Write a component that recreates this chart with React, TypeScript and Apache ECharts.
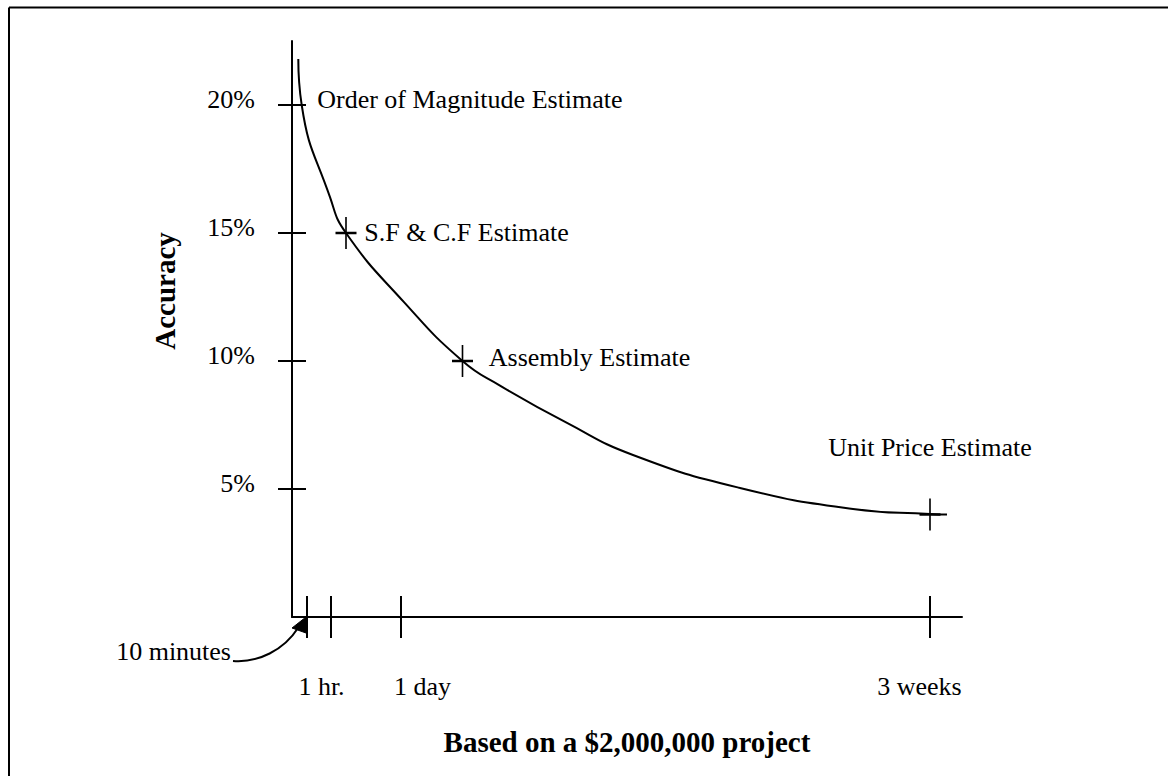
import React, { useEffect, useRef } from "react";
import * as echarts from "echarts";

// Curve (schematic time axis in arbitrary units, accuracy in %)
const curveX = [0.63, 0.97, 3.8, 5.4, 11.2, 17.05, 20.8, 27.5, 34.1, 44.8, 56.1, 63.8, 65.5];
const curveY = [21.8, 20.0, 16.4, 15.0, 12.3, 10.0, 9.04, 7.58, 6.33, 5.04, 4.22, 4.02, 4.0];

// Estimate types marked on the curve
const estimateNames = ["Order of Magnitude Estimate", "S.F & C.F Estimate", "Assembly Estimate", "Unit Price Estimate"];
const estimateX = [0.97, 5.4, 17.05, 63.8];
const estimateY = [20, 15, 10, 4];
const estimateMarked = [false, true, true, true];

// Axes
const yTickValues = [5, 10, 15, 20];
const xTickValues = [1.5, 3.9, 10.9, 63.8];
const xTickLabels = ["1 hr.", "1 day", "3 weeks"];
const xLabelValues = [2.95, 13.05, 62.75];
const xAxisTitle = "Based on a $2,000,000 project";
const yAxisTitle = "Accuracy";
const arrowLabel = "10 minutes";

const SERIF = "'Liberation Serif', 'Times New Roman', Times, serif";
const BLACK = "#000";

export default function App() {
  const ref = useRef<HTMLDivElement>(null);

  useEffect(() => {
    if (!ref.current) return;
    const chart = echarts.init(ref.current, undefined, { renderer: "svg" });

    const crossPath = "path://M10.5,0L10.5,32M0,16L21,16";
    const labelCfg = [
      { position: "right", distance: 0, offset: [15, -6] },
      { position: "right", distance: 0, offset: [7, -1] },
      { position: "right", distance: 0, offset: [15, -4] },
      { position: "top", distance: 37, offset: [0, 0] },
    ];

    const scatterData = estimateNames.map((name, i) => ({
      name,
      value: [estimateX[i], estimateY[i]],
      symbol: estimateMarked[i] ? crossPath : "circle",
      symbolSize: estimateMarked[i] ? [21, 32] : 1,
      itemStyle: estimateMarked[i]
        ? { color: "rgba(0,0,0,0)", borderColor: BLACK, borderWidth: 2, opacity: 1 }
        : { color: "rgba(0,0,0,0)", borderWidth: 0, opacity: 1 },
      label: {
        show: true,
        formatter: name,
        ...labelCfg[i],
        color: BLACK,
        opacity: 1,
        textBorderWidth: 0,
        fontFamily: SERIF,
        fontSize: 26,
      },
    }));

    const axisLineStyle = { color: BLACK, width: 2 };

    const option: any = {
      animation: false,
      backgroundColor: "#fff",
      grid: { left: 292, right: 206, top: 41, bottom: 159, containLabel: false, outerBoundsMode: "none" },
      xAxis: [
        {
          type: "value",
          min: 0,
          max: 67,
          position: "bottom",
          axisLine: { show: true, lineStyle: axisLineStyle },
          axisTick: { show: true, inside: false, length: 21, customValues: xTickValues, lineStyle: axisLineStyle },
          axisLabel: {
            show: true,
            customValues: xLabelValues,
            formatter: (v: number) => {
              let best = 0;
              xLabelValues.forEach((lv, i) => {
                if (Math.abs(lv - v) < Math.abs(xLabelValues[best] - v)) best = i;
              });
              return xTickLabels[best];
            },
            margin: 56,
            color: BLACK,
            fontFamily: SERIF,
            fontSize: 26,
          },
          splitLine: { show: false },
          name: xAxisTitle,
          nameLocation: "middle",
          nameGap: 110,
          nameTextStyle: { color: BLACK, fontFamily: SERIF, fontSize: 29, fontWeight: "bold" },
        },
        {
          type: "value",
          min: 0,
          max: 67,
          position: "bottom",
          axisLine: { show: false },
          axisTick: { show: true, inside: true, length: 21, customValues: xTickValues, lineStyle: axisLineStyle },
          axisLabel: { show: false },
          splitLine: { show: false },
        },
      ],
      yAxis: [
        {
          type: "value",
          min: 0,
          max: 22.5,
          position: "left",
          axisLine: { show: true, lineStyle: axisLineStyle },
          axisTick: { show: true, inside: false, length: 14, customValues: yTickValues, lineStyle: axisLineStyle },
          axisLabel: {
            show: true,
            customValues: yTickValues,
            formatter: (v: number) => `${Math.round(v)}%`,
            margin: 37,
            verticalAlign: "bottom",
            lineHeight: 12,
            color: BLACK,
            fontFamily: SERIF,
            fontSize: 26,
          },
          splitLine: { show: false },
        },
        {
          type: "value",
          min: 0,
          max: 22.5,
          position: "left",
          axisLine: { show: false },
          axisTick: { show: true, inside: true, length: 14, customValues: yTickValues, lineStyle: axisLineStyle },
          axisLabel: { show: false },
          splitLine: { show: false },
        },
      ],
      series: [
        {
          type: "line",
          xAxisIndex: 0,
          yAxisIndex: 0,
          data: curveX.map((x, i) => [x, curveY[i]]),
          smooth: 0.5,
          showSymbol: false,
          symbol: "none",
          lineStyle: { color: BLACK, width: 2, opacity: 1 },
          silent: true,
        },
        {
          type: "scatter",
          xAxisIndex: 0,
          yAxisIndex: 0,
          data: scatterData,
          itemStyle: { opacity: 1 },
          silent: true,
          z: 3,
        },
      ],
      graphic: [
        { type: "line", shape: { x1: 9, y1: 7.5, x2: 1168, y2: 7.5 }, style: { stroke: BLACK, lineWidth: 2 } },
        { type: "line", shape: { x1: 9, y1: 7.5, x2: 9, y2: 776 }, style: { stroke: BLACK, lineWidth: 2 } },
        {
          type: "text",
          x: 165,
          y: 291,
          rotation: Math.PI / 2,
          style: {
            text: yAxisTitle,
            fill: BLACK,
            fontFamily: SERIF,
            fontSize: 29,
            fontWeight: "bold",
            align: "center",
            verticalAlign: "middle",
          },
        },
        {
          type: "text",
          x: 231,
          y: 651,
          style: {
            text: arrowLabel,
            fill: BLACK,
            fontFamily: SERIF,
            fontSize: 26,
            align: "right",
            verticalAlign: "middle",
          },
        },
        {
          type: "bezierCurve",
          shape: { x1: 233, y1: 661, cpx1: 258, cpy1: 663, cpx2: 284, cpy2: 650, x2: 298, y2: 628 },
          style: { stroke: BLACK, lineWidth: 2, fill: "none" },
        },
        {
          type: "polygon",
          shape: { points: [[306, 617], [292, 628], [306, 633]] },
          style: { fill: BLACK, stroke: BLACK, lineWidth: 1 },
        },
      ],
    };

    chart.setOption(option);
    return () => chart.dispose();
  }, []);

  return (
    <div
      ref={ref}
      style={{ position: "fixed", left: 0, top: 0, width: 1168, height: 776, background: "#fff" }}
    />
  );
}
